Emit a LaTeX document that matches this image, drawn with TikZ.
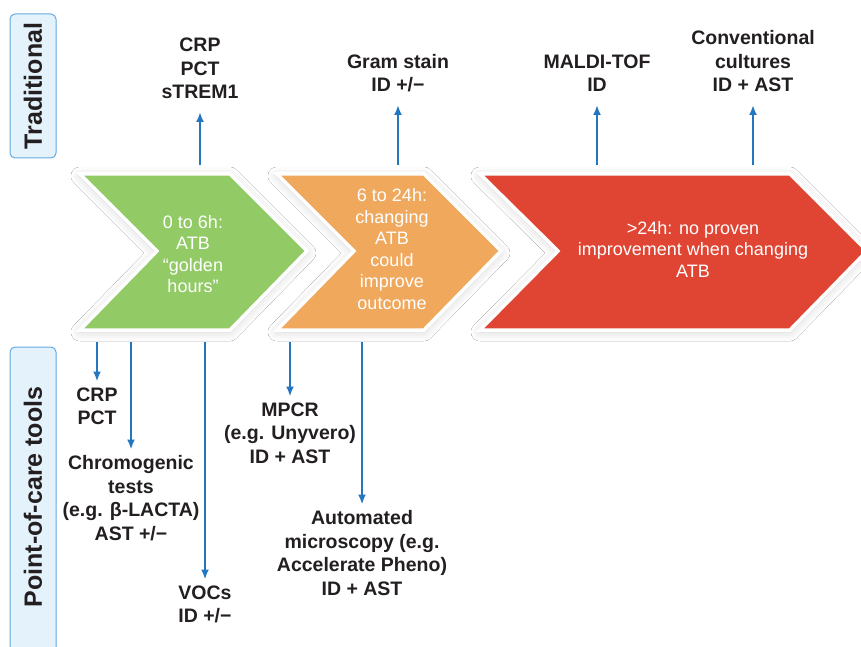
\documentclass[tikz,border=0pt]{standalone}
\usepackage{fontspec}
\setmainfont{Liberation Sans}
\usetikzlibrary{shadows.blur, arrows.meta}

\definecolor{atbgreen}{RGB}{146,202,102}
\definecolor{atborange}{RGB}{240,168,93}
\definecolor{atbred}{RGB}{224,69,52}
\definecolor{arrblue}{RGB}{36,118,190}
\definecolor{labtext}{RGB}{35,31,32}
\definecolor{sidefill}{RGB}{228,242,251}
\definecolor{sideline}{RGB}{100,170,222}

\tikzset{
    arr/.style={-{Latex[length=10pt, width=8pt]}, line width=2.3pt, draw=arrblue},
    lbl/.style={text=labtext, align=center, inner sep=0pt, outer sep=6pt,
        font=\bfseries\fontsize{19.5}{23.5}\selectfont,
        execute at begin node=\strut, execute at end node=\strut},
    chev/.style={draw=white, line width=3.5pt, line join=miter,
        blur shadow={shadow xshift=0pt, shadow yshift=-2pt,
            shadow blur radius=9pt, shadow opacity=18}},
    chevtxt/.style={text=white, align=center, inner sep=0pt,
        font=\fontsize{18}{21.5}\selectfont},
    sidebox/.style={fill=sidefill, draw=sideline, line width=1pt,
        rounded corners=5pt},
    sidetxt/.style={text=labtext, rotate=90, inner sep=0pt,
        font=\bfseries\fontsize{25}{30}\selectfont}
}

\begin{document}
\begin{tikzpicture}[x=1pt, y=-1pt]
    \useasboundingbox[fill=white] (0,0) rectangle (861,647);

    % side boxes
    \draw[sidebox] (10,14) rectangle (56,158);
    \node[sidetxt] (trad) at (33,86) {Traditional};
    \draw[sidebox] (10,347) rectangle (56,670);
    \node[sidetxt] (poc) at (33,497) {Point-of-care tools};

    % chevrons
    \filldraw[chev, fill=atbred] (480,174) -- (790,174) -- (867,251) -- (790,330)
        -- (480,330) -- (558,251) -- cycle;
    \filldraw[chev, fill=atborange] (277,174) -- (424,174) -- (501,251) -- (424,330)
        -- (277,330) -- (354,251) -- cycle;
    \filldraw[chev, fill=atbgreen] (80,174) -- (230,174) -- (307,251) -- (230,330)
        -- (80,330) -- (157,251) -- cycle;

    \node[chevtxt] (golden) at (193,254) {0 to 6h:\\ATB\\``golden\\hours''};
    \node[chevtxt] (mid) at (392,249) {6 to 24h:\\changing\\ATB\\could\\improve\\outcome};
    \node[chevtxt] (late) at (693,249) {>24h: no proven\\improvement when changing\\ATB};

    % traditional tests
    \node[lbl, anchor=south] (crpt) at (200,112) {CRP\\PCT\\sTREM1};
    \node[lbl, anchor=south] (gram) at (398,105) {Gram stain\\ID +/\textminus};
    \node[lbl, anchor=south] (maldi) at (597,105) {MALDI-TOF\\ID};
    \node[lbl, anchor=south] (cult) at (753,105) {Conventional\\cultures\\ID + AST};

    \coordinate (t1) at (200,165);
    \coordinate (t2) at (398,165);
    \coordinate (t3) at (597,165);
    \coordinate (t4) at (753,165);
    \draw[arr] (t1) -- (crpt.south);
    \draw[arr] (t2) -- (gram.south);
    \draw[arr] (t3) -- (maldi.south);
    \draw[arr] (t4) -- (cult.south);

    % point-of-care tests
    \node[lbl, anchor=north] (crpb) at (97,381.5) {CRP\\PCT};
    \node[lbl, anchor=north] (chromo) at (131,449.5) {Chromogenic\\tests\\(e.g. β-LACTA)\\AST +/\textminus};
    \node[lbl, anchor=north] (voc) at (205,579.5) {VOCs\\ID +/\textminus};
    \node[lbl, anchor=north] (mpcr) at (290,396.5) {MPCR\\(e.g. Unyvero)\\ID + AST};
    \node[lbl, anchor=north] (micro) at (362,504.5) {Automated\\microscopy (e.g.\\Accelerate Pheno)\\ID + AST};

    \coordinate (b1) at (97,342);
    \coordinate (b2) at (131,342);
    \coordinate (b3) at (205,342);
    \coordinate (b4) at (290,342);
    \coordinate (b5) at (362,342);
    \draw[arr] (b1) -- (crpb.north);
    \draw[arr] (b2) -- (chromo.north);
    \draw[arr] (b3) -- (voc.north);
    \draw[arr] (b4) -- (mpcr.north);
    \draw[arr] (b5) -- (micro.north);
\end{tikzpicture}
\end{document}
